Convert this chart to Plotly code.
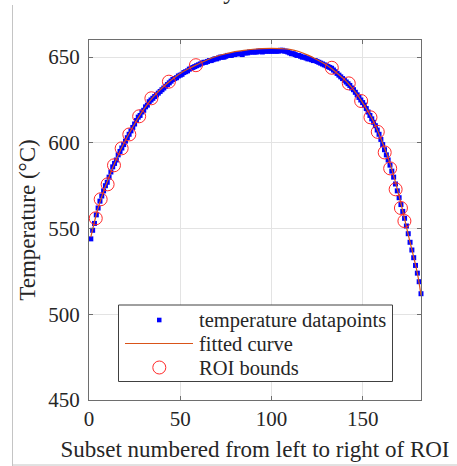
import plotly.graph_objects as go

# ---- data ----
subset = list(range(1, 183))
temperature = [
    544, 549, 553, 558, 562, 566, 569, 572, 575, 577,
    580, 583, 586, 588, 590, 593, 595, 597, 599, 601,
    603, 605, 607, 609, 611, 613, 615, 616, 618, 619,
    621, 622, 624, 625, 626, 627, 628, 629, 630, 631,
    632, 633, 634, 635, 636, 637, 637.5, 638, 639, 639.5,
    640, 641, 641.5, 642, 643, 643.5, 644, 644.5, 645, 645.5,
    646, 646.5, 647, 647, 647.5, 648, 648, 648.5, 649, 649,
    649.5, 650, 650, 650, 650.5, 651, 651, 651, 651.5, 651.5,
    652, 652, 652, 651.5, 652.5, 652.5, 652.5, 653, 653, 653,
    653, 653, 653.5, 653.5, 653, 653.5, 653.5, 653.5, 653.5, 653.5,
    653.5, 653.5, 653.5, 653.5, 654, 654, 653.5, 653.5, 653, 652.5,
    652, 652, 651.5, 651, 651, 650.5, 650, 650, 649.5, 649,
    649, 648.5, 648, 648, 647.5, 647, 646.5, 646, 645.5, 645,
    644.5, 644, 643.5, 642.5, 641.5, 640.5, 639.5, 638.5, 637.5, 636.5,
    635.5, 634.5, 633.5, 632, 631, 629.5, 628, 626.5, 625, 623.5,
    622, 620, 618, 616, 614, 612, 610, 607.5, 605, 602,
    599, 596, 593, 590, 587, 583.5, 580, 576, 572, 568,
    564, 560, 556, 551.5, 547, 542, 537.5, 533, 528.5, 524,
    519, 512,
]

fit_x = [1, 5, 10, 15, 20, 25, 30, 35, 40, 45, 50, 55, 60, 65, 70, 75, 80, 85, 90,
         95, 100, 105, 110, 115, 120, 125, 130, 135, 140, 145, 150, 155, 160, 165,
         170, 175, 180, 182]
fit_T = [545, 562, 577.5, 590.5, 601.5, 611, 619.5, 626.5, 632, 636.5, 640.5, 643.5,
         646, 648.5, 650.5, 652, 653.2, 654, 654.6, 655, 655.1, 655, 654.5, 653.3, 651.2,
         648.5, 645.5, 641.5, 637, 631, 623.5, 614.5, 602.5, 588, 569, 546.5, 524, 511]

roi_x = [3.7, 6.4, 10.2, 13.7, 17.9, 22.1, 27.5, 34.2, 43.8, 58.6,
         133.1, 142.4, 149.2, 154.3, 158.3, 162.1, 165.1, 168.1, 171.0, 172.9]
roi_T = [556.0, 567.1, 575.8, 586.9, 596.8, 604.9, 615.5, 626.0, 635.7, 645.3,
         643.8, 634.7, 624.4, 614.9, 606.4, 594.4, 585.1, 572.9, 562.0, 554.4]

x_ticks = [0, 50, 100, 150]
y_ticks = [450, 500, 550, 600, 650]

series_names = ["temperature datapoints", "fitted curve", "ROI bounds"]

FONT = "Liberation Serif, Times New Roman, serif"
AX = "#6e6e6e"
TXT = "#262626"
BLUE = "#0000ff"
ORANGE = "#D95319"
RED = "#ff2a2a"

# plot area in page pixels
L, R, T, B = 89, 421, 40, 400
W, H = 457, 466


def px(xp):
    return (xp - L) / (R - L)


def py(yp):
    return (B - yp) / (B - T)


fig = go.Figure()
fig.add_trace(go.Scatter(
    x=subset, y=temperature, mode="markers", name=series_names[0],
    marker=dict(symbol="square", size=5, color=BLUE, line=dict(width=0)),
    cliponaxis=False, showlegend=False,
))
fig.add_trace(go.Scatter(
    x=fit_x, y=fit_T, mode="lines", name=series_names[1],
    line=dict(color=ORANGE, width=1.2, shape="spline", smoothing=1.0),
    showlegend=False,
))
fig.add_trace(go.Scatter(
    x=roi_x, y=roi_T, mode="markers", name=series_names[2],
    marker=dict(symbol="circle-open", size=13, color=RED, line=dict(width=1, color=RED)),
    cliponaxis=False, showlegend=False,
))

axis_common = dict(
    showline=True, linecolor=AX, linewidth=1.2, mirror="ticks",
    ticks="inside", ticklen=4, tickcolor=AX, tickwidth=1,
    showgrid=True, gridcolor="#e3e3e3", gridwidth=1, zeroline=False,
    tickfont=dict(family=FONT, size=21, color=TXT),
)

# legend drawn as a boxed key (box, symbols, labels)
leg_rows = [320, 343.5, 367.5]
shapes = [
    dict(type="line", xref="paper", yref="paper",
         x0=px(12.5), x1=px(12.5), y0=py(5), y1=py(470),
         line=dict(color="#c4c4c4", width=1), layer="above"),
    dict(type="line", xref="paper", yref="paper",
         x0=px(12.5), x1=px(470), y0=py(465), y1=py(465),
         line=dict(color="#c4c4c4", width=1), layer="above"),
    dict(type="rect", xref="paper", yref="paper",
         x0=px(118.5), x1=px(392.5), y0=py(305), y1=py(381.5),
         line=dict(color="#404040", width=1), fillcolor="white", layer="above"),
    dict(type="rect", xref="paper", yref="paper",
         x0=px(157), x1=px(161.5), y0=py(leg_rows[0] - 2.3), y1=py(leg_rows[0] + 2.3),
         line=dict(width=0), fillcolor=BLUE, layer="above"),
    dict(type="line", xref="paper", yref="paper",
         x0=px(125), x1=px(193), y0=py(leg_rows[1]), y1=py(leg_rows[1]),
         line=dict(color=ORANGE, width=1.2), layer="above"),
    dict(type="circle", xref="paper", yref="paper",
         x0=px(159.3 - 6.5), x1=px(159.3 + 6.5),
         y0=py(leg_rows[2] - 6.5), y1=py(leg_rows[2] + 6.5),
         line=dict(color=RED, width=1), layer="above"),
]

annotations = [
    dict(text=name, xref="paper", yref="paper", x=px(198), y=py(yr),
         xanchor="left", yanchor="middle", showarrow=False, borderpad=0,
         font=dict(family=FONT, size=20.5, color=TXT))
    for name, yr in zip(series_names, leg_rows)
]
annotations.append(
    dict(text="format for further analysis.", xref="paper", yref="paper",
         x=px(-2), y=py(5), xanchor="left", yanchor="bottom",
         showarrow=False, borderpad=0,
         font=dict(family=FONT, size=25, color="#222222"))
)

fig.update_layout(
    width=W, height=H,
    margin=dict(l=L, r=W - R, t=T, b=H - B, autoexpand=False),
    paper_bgcolor="white", plot_bgcolor="white",
    font=dict(family=FONT, color=TXT),
    xaxis=dict(range=[0, 182], tickvals=x_ticks, ticklabelstandoff=0,
               title=dict(text="Subset numbered from left to right of ROI",
                          font=dict(family=FONT, size=23, color=TXT), standoff=10),
               **axis_common),
    yaxis=dict(range=[450, 660], tickvals=y_ticks, ticklabelstandoff=4,
               title=dict(text="Temperature (°C)",
                          font=dict(family=FONT, size=23, color=TXT), standoff=6),
               **axis_common),
    showlegend=False,
    shapes=shapes,
    annotations=annotations,
)

fig.write_html("out.html", config={"displayModeBar": False},
               post_script="document.body.style.margin='0';document.body.style.overflow='hidden';")
